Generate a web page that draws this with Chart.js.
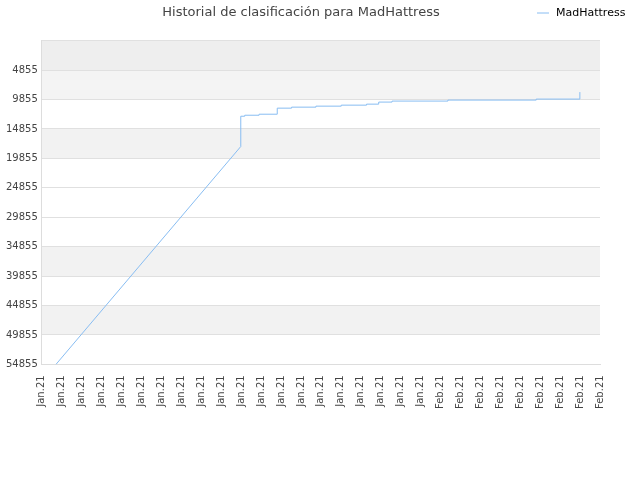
<!DOCTYPE html><html><head><script src="https://cdn.jsdelivr.net/npm/chart.js@4"></script>
<style>body{margin:0;background:#fff}#w{width:640px;height:480px}</style></head><body><div id="w"><canvas id="c"></canvas></div>
<script>
const xLabels=["Jan.21","Jan.21","Jan.21","Jan.21","Jan.21","Jan.21","Jan.21","Jan.21","Jan.21","Jan.21","Jan.21","Jan.21","Jan.21","Jan.21","Jan.21","Jan.21","Jan.21","Jan.21","Jan.21","Jan.21","Feb.21","Feb.21","Feb.21","Feb.21","Feb.21","Feb.21","Feb.21","Feb.21","Feb.21"];
const xPos=[0.71,9.98,9.98,10.18,10.18,10.9,10.9,11.81,11.81,12.53,12.53,13.75,13.75,15.02,15.02,16.29,16.29,16.9,16.9,17.57,17.57,20.37,20.37,24.8,24.8,26.99,26.99];
const ranks=[54855,17845,12700,12700,12530,12530,12360,12360,11330,11330,11160,11160,10990,10990,10820,10820,10650,10650,10300,10300,10130,10130,9960,9960,9790,9790,8600];
const bands={id:'bands',beforeDraw(ch){const {ctx,chartArea:a,scales:{y}}=ch;const cols=['#eeeeee','#f4f4f4','#ffffff','#f2f2f2','#ffffff','#ffffff','#ffffff','#f2f2f2','#ffffff','#f2f2f2','#ffffff'];for(let i=0;i<11;i++){const v0=-145+i*5000,v1=v0+5000;const p0=y.getPixelForValue(v0),p1=y.getPixelForValue(v1);ctx.fillStyle=cols[i];ctx.fillRect(a.left,p0,a.right-a.left,p1-p0);}}};
new Chart(document.getElementById('c'),{type:'line',data:{datasets:[{label:'MadHattress',data:xPos.map((x,i)=>({x,y:ranks[i]})),borderColor:'#88bdf2',backgroundColor:'#88bdf2',borderWidth:1,pointRadius:0,tension:0}]},
options:{responsive:true,maintainAspectRatio:false,animation:false,layout:{padding:{left:2,right:40,top:0,bottom:68}},
plugins:{title:{display:true,text:'Historial de clasificación para MadHattress',color:'#444',font:{family:'DejaVu Sans',size:13,weight:'normal'},padding:{top:5,bottom:20}},
legend:{display:false}},
scales:{x:{type:'linear',min:0,max:28,grid:{display:false},border:{color:'#ddd'},ticks:{stepSize:1,autoSkip:false,maxRotation:90,minRotation:90,color:'#444',font:{family:'DejaVu Sans',size:10},callback:v=>xLabels[v]}},
y:{reverse:true,min:-145,max:54855,border:{color:'#ddd'},grid:{color:'#e0e0e0',drawTicks:false},ticks:{padding:4,stepSize:5000,color:'#444',font:{family:'DejaVu Sans',size:10},callback:v=>v<0?'':v}}}},
plugins:[bands,{id:'leg',afterDraw(ch){const c=ch.ctx;c.strokeStyle='#88bdf2';c.lineWidth=1;c.beginPath();c.moveTo(537,13);c.lineTo(549,13);c.stroke();c.fillStyle='#000';c.font='11px DejaVu Sans';c.textBaseline='middle';c.fillText('MadHattress',556,13);}}]});
</script></body></html>
